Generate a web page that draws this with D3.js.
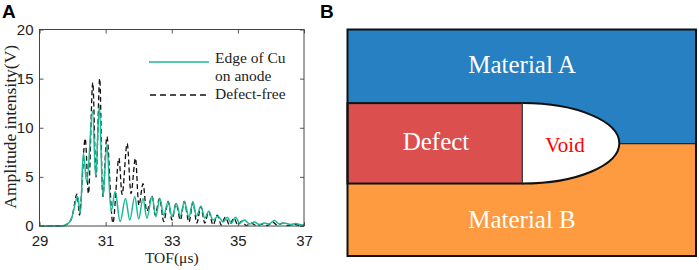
<!DOCTYPE html>
<html>
<head>
<meta charset="utf-8">
<script src="https://cdn.jsdelivr.net/npm/d3@7"></script>
<style>
  body { margin: 0; background: #fff; }
  svg { display: block; }
</style>
</head>
<body>
<div id="chart"></div>
<script>
// x ticks and y ticks
const xTicks = [29, 31, 33, 35, 37];
const yTicks = [0, 5, 10, 15, 20];

// Defect-free (dashed black) - peaks/troughs
const tofFree = [29, 29.5, 29.75, 29.88, 29.97, 30.13, 30.21, 30.38, 30.48, 30.61, 30.71, 30.82, 30.92, 31.04, 31.22,
  31.4, 31.5, 31.65, 31.77, 31.9, 32.01, 32.13, 32.25, 32.4, 32.5, 32.63, 32.76, 32.89, 33.01, 33.13, 33.26,
  33.38, 33.52, 33.64, 33.76, 33.88, 34.0, 34.12, 34.25, 34.38, 34.5, 34.62, 34.75, 34.88, 35.0, 35.12, 35.25,
  35.4, 35.55, 35.75, 35.9, 36.05, 36.2, 36.35, 36.5, 36.7, 36.85, 37];
const ampFree = [0, 0, 0.05, 0.3, 0.8, 3.25, 1.1, 8.9, 3.3, 14.6, 5.0, 15.0, 3.0, 9.1, 0.3,
  6.9, 3.2, 8.4, 3.3, 6.9, 2.1, 4.3, 1.5, 3.05, 1.1, 2.8, 0.45, 2.5, 0.6, 2.3, 0.6,
  2.5, 0.4, 2.4, 0.3, 2.0, 0.3, 1.5, 0.1, 1.1, 0.1, 0.9, 0.1, 0.8, 0.1, 0.5, 0.05,
  0.3, 0.05, 0.2, 0.05, 0.4, 0.05, 0.3, 0.05, 0.2, 0.05, 0.1];

// Edge of Cu on anode (green)
const tofCu = [29, 29.5, 29.75, 29.9, 29.98, 30.15, 30.23, 30.33, 30.43, 30.6, 30.7, 30.81, 30.92, 31.04, 31.17,
  31.29, 31.44, 31.6, 31.73, 31.88, 32.0, 32.13, 32.25, 32.4, 32.52, 32.64, 32.76, 32.89, 33.01, 33.14, 33.26,
  33.38, 33.52, 33.64, 33.75, 33.88, 34.0, 34.12, 34.25, 34.4, 34.55, 34.68, 34.8, 34.93, 35.05, 35.2, 35.35,
  35.5, 35.65, 35.8, 35.95, 36.1, 36.25, 36.4, 36.6, 36.75, 36.9, 37];
const ampCu = [0, 0, 0.05, 0.35, 0.9, 3.0, 1.3, 7.4, 4.4, 11.7, 5.0, 12.3, 3.0, 8.3, 1.5,
  3.5, 0.45, 2.8, 0.6, 3.0, 0.7, 2.8, 0.8, 3.0, 0.95, 2.8, 1.1, 2.5, 0.95, 2.3, 1.0,
  2.5, 0.9, 2.5, 1.0, 2.0, 0.8, 1.5, 0.6, 1.0, 0.4, 0.9, 0.3, 0.9, 0.3, 0.6, 0.2,
  0.4, 0.15, 0.3, 0.2, 0.55, 0.2, 0.3, 0.15, 0.25, 0.12, 0.1];

const legendLabels = [["Edge of Cu", "on anode"], ["Defect-free"]];
const regionLabels = ["Material A", "Defect", "Void", "Material B"];

const width = 699, height = 270;
const svg = d3.select("#chart").append("svg")
  .attr("width", width).attr("height", height);

// ---- panel A ----
const m = { left: 39.5, right: 304, top: 29.5, bottom: 226 };
const x = d3.scaleLinear().domain([29, 37]).range([m.left, m.right]);
const y = d3.scaleLinear().domain([0, 20]).range([m.bottom, m.top]);

const serif = "'Liberation Serif', 'Times New Roman', serif";
const sans = "'Liberation Sans', Arial, sans-serif";

const gA = svg.append("g");

function styleAxis(g) {
  g.select(".domain").remove();
  g.selectAll(".tick line").attr("stroke", "#555");
  g.selectAll(".tick text").attr("font-family", sans).attr("font-size", 15).attr("fill", "#222");
}

gA.append("g").attr("transform", `translate(0,${m.bottom})`)
  .call(d3.axisBottom(x).tickValues(xTicks).tickSizeInner(-4).tickPadding(9).tickFormat(d3.format("d")))
  .call(styleAxis);
gA.append("g").attr("transform", `translate(0,${m.top})`)
  .call(d3.axisTop(x).tickValues(xTicks).tickSizeInner(-4).tickFormat(""))
  .call(styleAxis);
gA.append("g").attr("transform", `translate(${m.left},0)`)
  .call(d3.axisLeft(y).tickValues(yTicks).tickSizeInner(-4).tickPadding(6).tickFormat(d3.format("d")))
  .call(styleAxis);
gA.append("g").attr("transform", `translate(${m.right},0)`)
  .call(d3.axisRight(y).tickValues(yTicks).tickSizeInner(-4).tickFormat(""))
  .call(styleAxis);

const line = d3.line().curve(d3.curveCatmullRom.alpha(0.5));

gA.append("path")
  .attr("d", line(tofFree.map((t, i) => [x(t), y(ampFree[i])])))
  .attr("fill", "none").attr("stroke", "#111").attr("stroke-width", 1.3)
  .attr("stroke-dasharray", "5,3");

gA.append("path")
  .attr("d", line(tofCu.map((t, i) => [x(t), y(ampCu[i])])))
  .attr("fill", "none").attr("stroke", "#1db894").attr("stroke-width", 1.5);

gA.append("rect")
  .attr("x", m.left).attr("y", m.top)
  .attr("width", m.right - m.left).attr("height", m.bottom - m.top)
  .attr("fill", "none").attr("stroke", "#444").attr("stroke-width", 1);

// legend
const lg = gA.append("g").attr("font-family", serif).attr("font-size", 15.5).attr("fill", "#222");
lg.append("line").attr("x1", 149).attr("x2", 209).attr("y1", 62).attr("y2", 62)
  .attr("stroke", "#1db894").attr("stroke-width", 1.5);
lg.append("line").attr("x1", 150).attr("x2", 209).attr("y1", 95).attr("y2", 95)
  .attr("stroke", "#111").attr("stroke-width", 1.3).attr("stroke-dasharray", "6,4");
lg.append("text").attr("x", 215).attr("y", 63).text(legendLabels[0][0]);
lg.append("text").attr("x", 215).attr("y", 81).text(legendLabels[0][1]);
lg.append("text").attr("x", 215).attr("y", 99).text(legendLabels[1][0]);

// axis titles
gA.append("text").attr("x", (m.left + m.right) / 2).attr("y", 263)
  .attr("text-anchor", "middle").attr("font-family", serif).attr("font-size", 15.5)
  .attr("fill", "#222").text("TOF(\u03bcs)");
gA.append("text")
  .attr("transform", `translate(15.5,${(m.top + m.bottom) / 2 - 1}) rotate(-90)`)
  .attr("text-anchor", "middle").attr("font-family", serif).attr("font-size", 17.5)
  .attr("fill", "#222").text("Amplitude intensity(V)");

svg.append("text").attr("x", 2).attr("y", 18).attr("font-family", sans)
  .attr("font-weight", "bold").attr("font-size", 19).text("A");
svg.append("text").attr("x", 320).attr("y", 18).attr("font-family", sans)
  .attr("font-weight", "bold").attr("font-size", 19).text("B");

// ---- panel B (schematic, unit coordinates mapped by scales) ----
const bx = d3.scaleLinear().domain([0, 1]).range([347.5, 696]);
const by = d3.scaleLinear().domain([0, 1]).range([29.5, 256]);
const defectRight = 0.503, layerTop = 0.325, midY = 0.504, layerBot = 0.68, voidRight = 0.78;

const gB = svg.append("g");
gB.append("rect").attr("x", bx(0)).attr("y", by(0))
  .attr("width", bx(1) - bx(0)).attr("height", by(midY) - by(0)).attr("fill", "#2680c2");
gB.append("rect").attr("x", bx(0)).attr("y", by(midY))
  .attr("width", bx(1) - bx(0)).attr("height", by(1) - by(midY)).attr("fill", "#fe9a40");
gB.append("line").attr("x1", bx(voidRight)).attr("x2", bx(1)).attr("y1", by(midY)).attr("y2", by(midY))
  .attr("stroke", "#222").attr("stroke-width", 1.2);

gB.append("rect").attr("x", bx(0)).attr("y", by(layerTop))
  .attr("width", bx(defectRight) - bx(0)).attr("height", by(layerBot) - by(layerTop))
  .attr("fill", "#db4f4f").attr("stroke", "#111").attr("stroke-width", 2);

const rx = bx(voidRight) - bx(defectRight), ry = (by(layerBot) - by(layerTop)) / 2;
gB.append("path")
  .attr("d", `M${bx(defectRight)},${by(layerTop)} A${rx},${ry} 0 0 1 ${bx(voidRight)},${by(layerTop) + ry} A${rx},${ry} 0 0 1 ${bx(defectRight)},${by(layerBot)}`)
  .attr("fill", "#fff").attr("stroke", "#111").attr("stroke-width", 2);

gB.append("rect").attr("x", bx(0)).attr("y", by(0))
  .attr("width", bx(1) - bx(0)).attr("height", by(1) - by(0))
  .attr("fill", "none").attr("stroke", "#111").attr("stroke-width", 2);

const lbl = gB.append("g").attr("font-family", serif).attr("text-anchor", "middle");
lbl.append("text").attr("x", 522).attr("y", 73).attr("font-size", 25).attr("fill", "#fff").text(regionLabels[0]);
lbl.append("text").attr("x", 436).attr("y", 150).attr("font-size", 25).attr("fill", "#fff").text(regionLabels[1]);
lbl.append("text").attr("x", 565).attr("y", 152).attr("font-size", 21).attr("fill", "#f00").text(regionLabels[2]);
lbl.append("text").attr("x", 522).attr("y", 228).attr("font-size", 25).attr("fill", "#fff").text(regionLabels[3]);
</script>
</body>
</html>
